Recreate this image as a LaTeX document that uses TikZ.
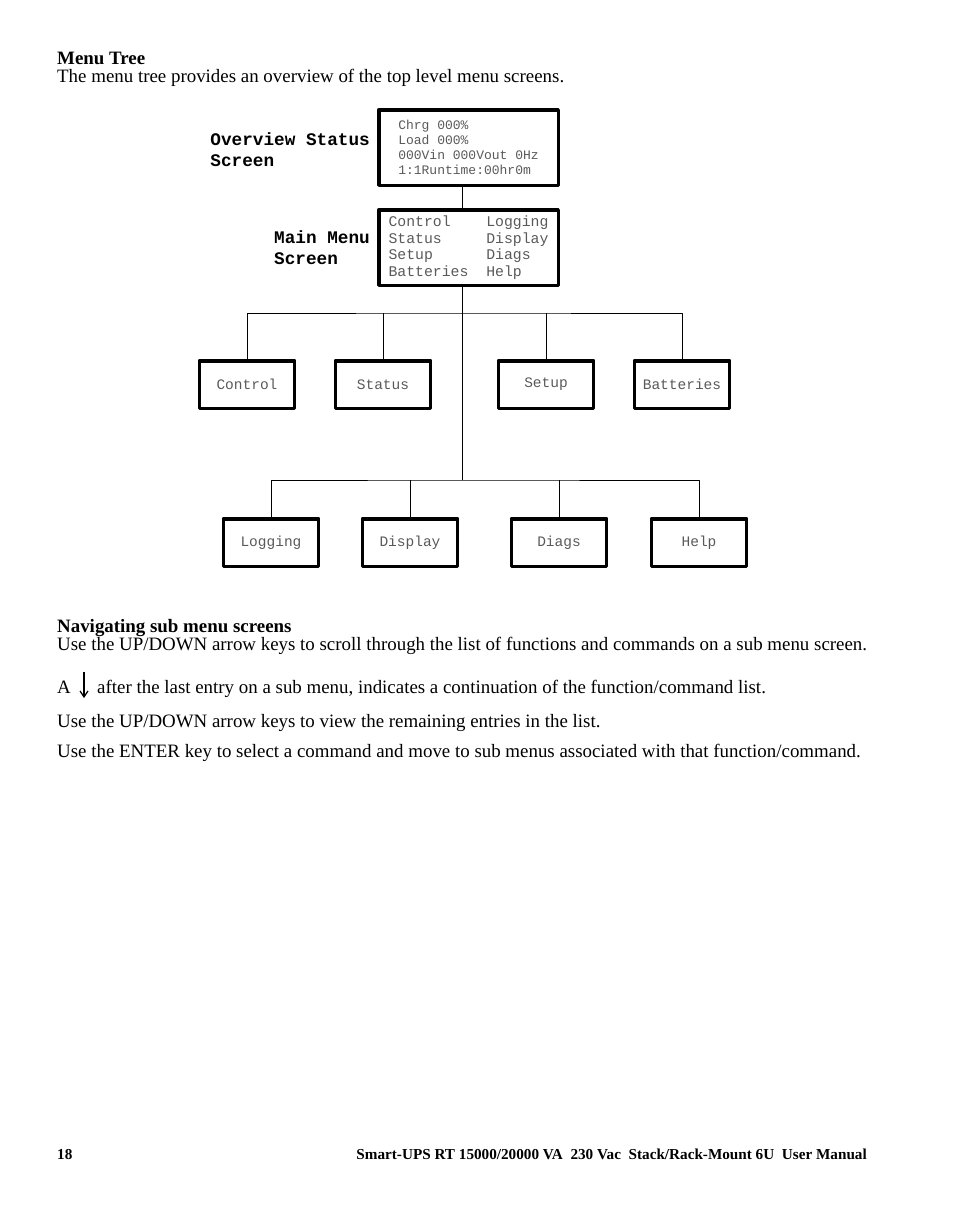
\documentclass[tikz,border=0pt]{standalone}
\usepackage{fontspec}
\setmainfont{Liberation Serif}
\setmonofont{Liberation Mono}
\usetikzlibrary{positioning,arrows.meta}
\begin{document}
\begin{tikzpicture}[x=1pt,y=-1pt,line join=round,
	body/.style={anchor=base west,inner sep=0pt,font=\fontsize{18.9}{22}\selectfont},
	head/.style={body,font=\fontsize{18.9}{22}\selectfont\bfseries},
	scrbox/.style={draw,line width=3.5pt,inner sep=0pt,minimum width=179.5pt,minimum height=75.5pt,align=left,text=black!65},
	lbl/.style={inner sep=0pt,align=left,font=\fontsize{17.7}{21}\selectfont\ttfamily\bfseries},
	subbox/.style={draw,line width=3.5pt,inner sep=0pt,minimum width=95pt,minimum height=47.5pt,text=black!65,font=\fontsize{14.5}{17}\selectfont\ttfamily},
	wire/.style={line width=0.9pt}]
	\useasboundingbox (0,0) rectangle (954,1227);
	% heading
	\node[head] (title) at (57,64) {Menu Tree};
	\node[body] (intro) at (57,82) {The menu tree provides an overview of the top level menu screens.};
	% screens
	\node[scrbox,font=\fontsize{13}{15}\selectfont\ttfamily] (ovw) at (468.5,147.5) {Chrg 000\%\\Load 000\%\\000Vin 000Vout 0Hz\\1:1Runtime:00hr0m};
	\node[scrbox,font=\fontsize{14.8}{16.5}\selectfont\ttfamily] (main) at (468.5,247.5) {Control~~~~Logging\\Status~~~~~Display\\Setup~~~~~~Diags\\Batteries~~Help};
	\node[lbl,left=7pt of ovw,yshift=-2pt] (ovwlbl) {Overview Status\\Screen};
	\node[lbl,left=7pt of main] (mainlbl) {Main Menu\\Screen};
	% sub menus
	\foreach \name/\x/\txt in {ctrl/247/Control,stat/383/Status,setp/546/Setup,batt/682/Batteries}
		\node[subbox] (\name) at (\x,384.5) {\txt};
	\foreach \name/\x/\txt in {logg/271/Logging,disp/410/Display,diag/559/Diags,help/699/Help}
		\node[subbox] (\name) at (\x,542.5) {\txt};
	% tree lines
	\coordinate (fork1) at (462,313);
	\coordinate (fork2) at (462,480);
	\draw[wire] (ovw.south -| fork1) -- (main.north -| fork1);
	\draw[wire] (main.south -| fork1) -- (fork2);
	\draw[wire] (ctrl.north) |- (fork1) -| (batt.north);
	\foreach \n in {stat,setp} \draw[wire] (\n.north) -- (\n.north |- fork1);
	\draw[wire] (logg.north) |- (fork2) -| (help.north);
	\foreach \n in {disp,diag} \draw[wire] (\n.north) -- (\n.north |- fork2);
	% navigating
	\node[head] (navhead) at (57,632) {Navigating sub menu screens};
	\node[body] (nav1) at (57,650) {Use the UP/DOWN arrow keys to scroll through the list of functions and commands on a sub menu screen.};
	\node[body] (nava) at (57,693) {A};
	\coordinate (arrtop) at (84,672);
	\coordinate (arrbot) at (84,698);
	\draw[line width=1.2pt,-{Straight Barb[length=6pt,width=8pt]}] (arrtop) -- (arrbot);
	\node[body] (nav2) at (97,693) {after the last entry on a sub menu, indicates a continuation of the function/command list.};
	\node[body] (nav3) at (57,727) {Use the UP/DOWN arrow keys to view the remaining entries in the list.};
	\node[body] (nav4) at (57,757) {Use the ENTER key to select a command and move to sub menus associated with that function/command.};
	% footer
	\node[anchor=base west,inner sep=0pt,font=\fontsize{15.2}{18}\selectfont\bfseries] (pgno) at (57,1159) {18};
	\node[anchor=base east,inner sep=0pt,font=\fontsize{15.2}{18}\selectfont\bfseries] (foot) at (867,1159) {Smart-UPS RT 15000/20000 VA\ \ 230 Vac\ \ Stack/Rack-Mount 6U\ \ User Manual};
\end{tikzpicture}
\end{document}
